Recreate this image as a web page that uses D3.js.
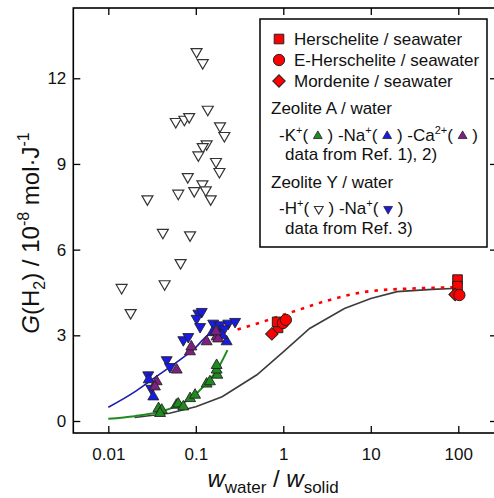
<!DOCTYPE html>
<html><head><meta charset="utf-8">
<script src="https://cdn.jsdelivr.net/npm/d3@7"></script>
<style>
body{margin:0;background:#fff}
svg{display:block;font-family:"Liberation Sans",Arial,sans-serif}
</style>
</head><body>
<svg id="c" width="494" height="498"></svg>
<script>
// ---------------- data ----------------
// Zeolite Y / water, H+ (open down triangles)
const hY_x=[0.102,0.12,0.137,0.059,0.074,0.084,0.189,0.212,0.133,0.12,0.107,0.17,0.186,0.081,0.119,0.13,0.096,0.063,0.148,0.028,0.042,0.086,0.067,0.044,0.0142,0.018];
const hY_y=[12.93,12.54,10.91,10.48,10.56,10.65,10.33,9.99,9.70,9.60,9.31,9.08,8.73,8.55,8.30,8.09,8.06,7.97,7.77,7.77,6.60,6.51,5.54,4.80,4.67,3.79];
// Zeolite Y / water, Na+ (blue filled down triangles)
const naY_x=[0.107,0.117,0.102,0.112,0.158,0.189,0.235,0.281,0.072,0.082,0.0465,0.0507,0.0286,0.031,0.17,0.21];
const naY_y=[3.77,3.83,3.59,3.30,3.42,3.36,3.42,3.48,2.84,2.95,2.14,1.90,1.61,1.14,3.10,3.22];
// Zeolite A / water, Na+ (blue up triangles)
const naA_x=[0.225,0.0327,0.029,0.155,0.2];
const naA_y=[2.78,0.85,1.45,3.10,3.00];
// Zeolite A / water, Ca2+ (purple up triangles)
const caA_x=[0.0858,0.089,0.0605,0.0357,0.0341,0.173,0.133,0.18,0.17];
const caA_y=[2.43,2.60,1.79,1.38,1.20,2.95,2.78,2.88,3.13];
// Zeolite A / water, K+ (green up triangles)
const kA_x=[0.0375,0.0408,0.039,0.06,0.063,0.072,0.086,0.098,0.133,0.145,0.176,0.173,0.173];
const kA_y=[0.44,0.385,0.27,0.56,0.60,0.50,0.79,0.91,1.30,1.38,1.61,1.79,1.95];
// seawater
const hersch_x=[0.87,0.85,98,98];
const hersch_y=[3.26,3.47,4.95,4.72];
const eHersch_x=[0.99,1.07,103];
const eHersch_y=[3.43,3.54,4.41];
const mord_x=[0.74,92];
const mord_y=[3.05,4.43];
// curves
const lineBlue_x=[0.01,0.02,0.03,0.05,0.07,0.1,0.13,0.17];
const lineBlue_y=[0.48,1.02,1.40,1.88,2.20,2.58,2.95,3.20];
const lineGreen_x=[0.01,0.02,0.04,0.06,0.09,0.13,0.18,0.23];
const lineGreen_y=[0.08,0.17,0.33,0.52,0.82,1.30,1.85,2.48];
const lineGray_x=[0.02,0.05,0.1,0.2,0.5,1,2,5,10,20,50,100];
const lineGray_y=[0.12,0.27,0.5,0.85,1.62,2.42,3.24,3.94,4.29,4.53,4.61,4.65];
const lineRed_x=[0.3,0.55,1.3,3.4,9,30,90];
const lineRed_y=[3.2,3.45,3.83,4.24,4.53,4.64,4.68];
// ticks
const xTickValues=[0.01,0.1,1,10,100];
const xTickLabels=["0.01","0.1","1","10","100"];
const yTickValues=[0,3,6,9,12,15];
const yTickLabels=["0","3","6","9","12","15"];

// ---------------- layout ----------------
const svg=d3.select("#c");
const L=73.3,R=497,T=8,B=433;
const x=d3.scaleLog().domain([0.00398,277]).range([L,R]);
const y=d3.scaleLinear().domain([-0.42,14.46]).range([B,T]);
const zip=(a,b)=>a.map((v,i)=>({x:v,y:b[i]}));

const C={green:"#1f8a1f",blue:"#1a1ae6",purple:"#7f1f80",red:"#ff0000",stroke:"#222"};

// minor tick values
const xMinor=[];
for(let e=-3;e<=2;e++)for(let k=2;k<=9;k++){const v=k*Math.pow(10,e);if(v>=x.domain()[0]&&v<=x.domain()[1])xMinor.push(v);}
const yMinor=d3.range(0,15).filter(v=>v%3!==0);

// axes
const gb=svg.append("g").attr("transform",`translate(0,${B})`);
gb.call(d3.axisBottom(x).tickValues(xMinor).tickSize(-4).tickFormat(""));
gb.call(d3.axisBottom(x).tickValues(xTickValues).tickSize(-7).tickPadding(15).tickFormat((d,i)=>xTickLabels[i]));
const gt=svg.append("g").attr("transform",`translate(0,${T})`);
gt.call(d3.axisTop(x).tickValues(xMinor).tickSize(-4).tickFormat(""));
gt.call(d3.axisTop(x).tickValues(xTickValues).tickSize(-7).tickFormat(""));
const gl=svg.append("g").attr("transform",`translate(${L},0)`);
gl.call(d3.axisLeft(y).tickValues(yMinor).tickSize(-4).tickFormat(""));
gl.call(d3.axisLeft(y).tickValues(yTickValues.filter(v=>v<=14)).tickSize(-7).tickPadding(7).tickFormat(d=>yTickLabels[yTickValues.indexOf(d)]));
const gr=svg.append("g").attr("transform",`translate(${R},0)`);
gr.call(d3.axisRight(y).tickValues(yMinor).tickSize(-4).tickFormat(""));
gr.call(d3.axisRight(y).tickValues(yTickValues.filter(v=>v<=14)).tickSize(-7).tickFormat(""));
svg.selectAll(".domain").remove();
svg.selectAll(".tick line").attr("stroke","#000").attr("stroke-width",1.3);
svg.selectAll(".tick text").attr("font-size",17).attr("fill","#111").attr("font-family",null);

svg.append("rect").attr("x",L).attr("y",T).attr("width",R-L).attr("height",B-T)
  .attr("fill","none").attr("stroke","#000").attr("stroke-width",1.6);

// axis titles
const xt=svg.append("text").attr("x",273).attr("y",487).attr("text-anchor","middle").attr("fill","#111").attr("font-size",24);
xt.append("tspan").attr("font-style","italic").text("w");
xt.append("tspan").attr("font-size",17).attr("dy",6).text("water");
xt.append("tspan").attr("dy",-6).text(" / ");
xt.append("tspan").attr("font-style","italic").text("w");
xt.append("tspan").attr("font-size",17).attr("dy",6).text("solid");

const yt=svg.append("text").attr("transform","translate(39,233) rotate(-90)").attr("text-anchor","middle").attr("fill","#111").attr("font-size",24);
yt.append("tspan").attr("font-style","italic").text("G");
yt.append("tspan").text("(H");
yt.append("tspan").attr("font-size",16).attr("dy",6).text("2");
yt.append("tspan").attr("dy",-6).text(") / 10");
yt.append("tspan").attr("font-size",16).attr("dy",-10).text("-8");
yt.append("tspan").attr("dy",10).text(" mol·J");
yt.append("tspan").attr("font-size",16).attr("dy",-10).text("-1");

// curves
const ln=d3.line().x(d=>x(d.x)).y(d=>y(d.y));
const lnS=d3.line().x(d=>x(d.x)).y(d=>y(d.y)).curve(d3.curveMonotoneX);
svg.append("path").datum(zip(lineGray_x,lineGray_y)).attr("d",ln).attr("fill","none").attr("stroke","#3c3c3c").attr("stroke-width",1.6);
svg.append("path").datum(zip(lineGreen_x,lineGreen_y)).attr("d",lnS).attr("fill","none").attr("stroke",C.green).attr("stroke-width",2);
svg.append("path").datum(zip(lineBlue_x,lineBlue_y)).attr("d",lnS).attr("fill","none").attr("stroke","#1c1cb0").attr("stroke-width",1.6);
svg.append("path").datum(zip(lineRed_x,lineRed_y)).attr("d",lnS).attr("fill","none").attr("stroke",C.red).attr("stroke-width",2.6).attr("stroke-dasharray","3.5,6");

// markers
const triS=d3.symbol().type(d3.symbolTriangle).size(52)();
const sqS=d3.symbol().type(d3.symbolSquare).size(92)();
const ciS=d3.symbol().type(d3.symbolCircle).size(100)();
const diS=d3.symbol().type(d3.symbolSquare).size(78)();
function pts(xs,ys,path,rot,fill,stroke,sw){
  svg.append("g").selectAll("path").data(zip(xs,ys)).join("path")
    .attr("d",path).attr("transform",d=>`translate(${x(d.x)},${y(d.y)}) rotate(${rot})`)
    .attr("fill",fill).attr("stroke",stroke).attr("stroke-width",sw);
}
pts(hY_x,hY_y,triS,180,"#fff","#333",1.2);
pts(kA_x,kA_y,triS,0,C.green,C.stroke,0.9);
pts(naY_x,naY_y,triS,180,C.blue,C.stroke,0.9);
pts(naA_x,naA_y,triS,0,C.blue,C.stroke,0.9);
pts(caA_x,caA_y,triS,0,C.purple,C.stroke,0.9);
pts(hersch_x,hersch_y,sqS,0,C.red,C.stroke,1);
pts(mord_x,mord_y,diS,45,C.red,C.stroke,1);
pts(eHersch_x,eHersch_y,ciS,0,C.red,C.stroke,1);

// legend
const lg=svg.append("g");
lg.append("rect").attr("x",260).attr("y",19).attr("width",227).attr("height",228)
  .attr("fill","#fff").attr("stroke","#000").attr("stroke-width",1.5);
const FS=17;
const legendRed=[
  {label:"Herschelite / seawater",path:sqS,rot:0},
  {label:"E-Herschelite / seawater",path:ciS,rot:0},
  {label:"Mordenite / seawater",path:diS,rot:45}
];
legendRed.forEach((d,i)=>{
  const cy=39+i*21;
  lg.append("path").attr("d",d.path).attr("transform",`translate(279,${cy}) rotate(${d.rot})`)
    .attr("fill",C.red).attr("stroke",C.stroke).attr("stroke-width",1);
  lg.append("text").attr("x",294).attr("y",cy+6).attr("font-size",FS).attr("fill","#111").text(d.label);
});
const smallTri=d3.symbol().type(d3.symbolTriangle).size(34)();
function richLine(x0,base,parts){
  let cx=x0;
  parts.forEach(p=>{
    if(p.m){
      cx+=5;
      lg.append("path").attr("d",smallTri).attr("transform",`translate(${cx},${base-5}) rotate(${p.rot})`)
        .attr("fill",p.fill).attr("stroke",p.stroke||C.stroke).attr("stroke-width",p.sw||0.8);
      cx+=5;
    }else{
      const t=lg.append("text").attr("x",cx).attr("y",base+(p.sup?-7:0)).attr("font-size",p.sup?11:FS).attr("fill","#111")
        .style("white-space","pre").attr("xml:space","preserve").text(p.t);
      cx+=t.node().getComputedTextLength();
    }
  });
}
lg.append("text").attr("x",271).attr("y",114).attr("font-size",FS).attr("fill","#111").text("Zeolite A / water");
richLine(279,141,[{t:"-K"},{t:"+",sup:1},{t:"( "},{m:1,fill:C.green,rot:0},{t:" ) -Na"},{t:"+",sup:1},{t:"( "},{m:1,fill:C.blue,rot:0},{t:" ) -Ca"},{t:"2+",sup:1},{t:"( "},{m:1,fill:C.purple,rot:0},{t:" )"}]);
lg.append("text").attr("x",285).attr("y",160).attr("font-size",FS).attr("fill","#111").text("data from Ref. 1), 2)");
lg.append("text").attr("x",271).attr("y",188).attr("font-size",FS).attr("fill","#111").text("Zeolite Y / water");
richLine(279,214,[{t:"-H"},{t:"+",sup:1},{t:"( "},{m:1,fill:"#fff",stroke:"#333",sw:1.1,rot:180},{t:" ) -Na"},{t:"+",sup:1},{t:"( "},{m:1,fill:C.blue,rot:180},{t:" )"}]);
lg.append("text").attr("x",285).attr("y",234).attr("font-size",FS).attr("fill","#111").text("data from Ref. 3)");
</script>
</body></html>
